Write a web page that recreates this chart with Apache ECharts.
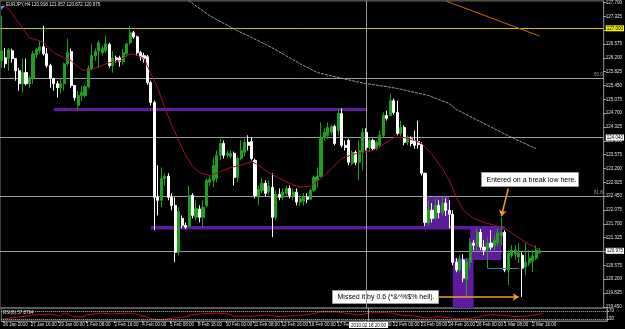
<!DOCTYPE html>
<html>
<head>
<meta charset="utf-8">
<script src="https://cdn.jsdelivr.net/npm/echarts@6/dist/echarts.min.js"></script>
<style>
html, body { margin: 0; padding: 0; background: #000; }
#chart { width: 625px; height: 329px; }
</style>
</head>
<body>
<div id="chart"></div>
<script>
// EURJPY H4, values
const dateLabels = ['26 Jan 2010', '27 Jan 16:00', '29 Jan 00:00', '1 Feb 08:00', '2 Feb 16:00',
  '4 Feb 00:00', '5 Feb 08:00', '8 Feb 16:00', '10 Feb 00:00', '11 Feb 08:00', '12 Feb 16:00',
  '16 Feb 00:00', '17 Feb 08:00', '18 Feb 16:00', '22 Feb 00:00', '23 Feb 08:00', '24 Feb 16:00',
  '26 Feb 00:00', '1 Mar 08:00', '2 Mar 16:00'];

const opens = [
  126.12, 126.20, 126.18, 126.39, 126.18, 125.85, 125.50, 125.80, 125.50, 125.66,
  126.28, 126.39, 126.50, 126.31, 125.99, 125.64, 125.50, 125.39, 125.50, 126.04,
  126.37, 125.45, 124.91, 125.18, 125.18, 125.42, 125.91, 126.26, 126.39, 126.34,
  126.39, 126.56, 125.99, 126.20, 126.20, 126.10, 126.31, 126.61, 126.88, 126.77,
  126.34, 126.26, 126.23, 125.53, 124.99, 122.42, 122.34, 122.93, 122.99, 122.42,
  122.20, 120.93, 121.85, 121.66, 121.64, 122.47, 121.88, 122.10, 121.88, 122.20,
  122.83, 122.88, 122.93, 123.56, 123.88, 123.56, 123.53, 123.61, 122.96, 123.47,
  123.64, 123.91, 123.93, 123.42, 122.47, 122.61, 122.80, 122.56, 122.69, 121.88,
  122.50, 122.42, 122.53, 122.66, 122.47, 122.56, 122.29, 122.31, 122.42, 122.37,
  122.61, 122.88, 122.99, 124.04, 124.10, 124.18, 124.34, 124.23, 124.69, 123.83,
  123.96, 123.34, 123.64, 123.37, 123.64, 124.18, 123.77, 123.96, 123.74, 123.83,
  124.10, 124.64, 124.64, 125.04, 124.72, 124.15, 124.31, 123.91, 124.01, 123.96,
  123.93, 123.85, 123.07, 121.74, 122.07, 121.85, 122.20, 122.01, 122.26, 122.07,
  121.96, 120.66, 120.45, 120.72, 120.18, 120.66, 121.18, 121.12, 121.47, 121.07,
  121.04, 121.18, 121.10, 121.18, 121.37, 121.47, 120.45, 120.85, 120.88, 120.80,
  120.85, 120.53, 120.64, 120.69, 120.77, 120.918
];
const closes = [
  126.39, 126.04, 126.42, 126.18, 125.85, 125.50, 125.80, 125.50, 125.66, 126.31,
  126.42, 126.50, 126.31, 125.99, 125.64, 125.50, 125.39, 125.50, 126.04, 126.34,
  125.45, 125.12, 125.18, 125.26, 125.42, 125.91, 126.26, 126.37, 126.61, 126.45,
  126.58, 125.99, 126.20, 126.15, 126.10, 126.34, 126.58, 126.88, 126.77, 126.34,
  126.23, 126.18, 125.53, 124.99, 122.42, 122.34, 122.93, 122.99, 122.42, 122.20,
  120.93, 122.04, 121.66, 121.61, 122.47, 121.93, 122.12, 121.88, 122.15, 122.88,
  122.91, 123.29, 123.56, 123.88, 123.56, 123.61, 123.61, 122.96, 123.47, 123.69,
  123.91, 123.83, 123.47, 122.47, 122.64, 122.80, 122.53, 122.72, 121.88, 122.50,
  122.42, 122.56, 122.66, 122.47, 122.56, 122.29, 122.39, 122.42, 122.37, 122.61,
  122.96, 122.99, 124.04, 124.18, 124.31, 124.34, 123.88, 124.69, 123.83, 123.77,
  123.37, 123.64, 123.37, 123.69, 124.18, 123.77, 123.96, 123.74, 123.91, 124.10,
  124.64, 124.56, 125.04, 124.72, 124.15, 124.31, 123.91, 124.01, 123.88, 123.83,
  123.85, 123.07, 121.74, 122.07, 121.85, 122.20, 122.01, 122.26, 122.07, 121.96,
  120.66, 120.45, 120.72, 120.23, 120.66, 121.18, 121.12, 121.47, 121.07, 120.99,
  121.18, 121.07, 121.26, 121.45, 121.47, 120.45, 120.91, 120.99, 120.99, 120.91,
  120.50, 120.66, 120.77, 120.83, 120.99, 120.975
];
const lows = [
  125.93, 125.93, 125.85, 126.07, 125.58, 125.31, 125.26, 125.45, 125.39, 125.50,
  126.20, 126.31, 126.26, 125.93, 125.39, 125.31, 125.12, 125.23, 125.31, 125.99,
  125.39, 125.04, 124.77, 125.04, 125.12, 125.37, 125.85, 126.12, 125.93, 126.26,
  126.34, 125.93, 125.80, 126.07, 125.96, 126.01, 126.23, 126.56, 126.72, 126.26,
  126.12, 126.07, 125.47, 124.91, 121.53, 121.93, 122.15, 122.74, 122.34, 122.07,
  120.66, 120.85, 121.58, 121.56, 121.61, 121.85, 121.80, 121.74, 121.61, 122.15,
  122.74, 122.69, 122.83, 123.42, 123.47, 123.50, 123.47, 122.74, 122.83, 123.42,
  123.53, 123.69, 123.42, 122.39, 122.20, 122.53, 122.45, 122.47, 121.34, 121.80,
  122.34, 122.34, 122.45, 122.39, 122.34, 122.20, 122.18, 122.20, 122.26, 122.34,
  122.56, 122.69, 122.96, 123.96, 124.01, 124.10, 123.83, 124.10, 123.77, 123.69,
  123.29, 123.29, 123.29, 122.88, 123.15, 123.69, 123.64, 123.69, 123.69, 123.77,
  124.04, 124.50, 124.61, 124.66, 124.10, 124.07, 123.83, 123.83, 123.80, 123.74,
  123.74, 123.01, 121.64, 121.66, 121.74, 121.80, 121.85, 121.93, 121.91, 121.58,
  120.58, 120.39, 120.39, 120.12, 119.69, 120.50, 120.99, 120.93, 120.99, 120.85,
  120.50, 120.99, 120.99, 121.10, 121.12, 120.39, 120.04, 120.77, 120.72, 120.64,
  119.72, 120.31, 120.56, 120.39, 120.72, 120.872
];
const highs = [
  127.34, 126.47, 126.47, 126.45, 126.20, 125.93, 126.18, 126.18, 125.72, 126.39,
  126.47, 126.66, 127.07, 126.47, 126.04, 125.66, 125.58, 125.64, 126.07, 126.72,
  126.45, 125.47, 125.31, 125.45, 125.47, 125.99, 126.58, 126.45, 126.66, 126.53,
  126.80, 126.61, 126.39, 126.26, 126.26, 126.45, 126.61, 127.07, 126.93, 126.80,
  126.39, 126.34, 126.28, 125.58, 125.04, 123.29, 123.23, 123.07, 123.07, 122.53,
  122.42, 122.15, 121.93, 121.74, 122.74, 122.53, 122.34, 122.20, 122.34, 122.93,
  122.99, 123.50, 123.69, 124.01, 123.96, 123.69, 123.69, 123.66, 123.53, 123.96,
  124.01, 124.10, 124.04, 123.47, 122.74, 122.93, 122.88, 122.88, 123.07, 122.61,
  122.66, 122.66, 122.74, 122.74, 122.66, 122.66, 122.47, 122.53, 122.53, 122.66,
  123.01, 123.23, 124.45, 124.29, 124.45, 124.39, 124.39, 124.83, 124.83, 123.96,
  124.01, 123.69, 123.69, 123.96, 124.29, 124.29, 124.04, 124.01, 123.96, 124.23,
  124.72, 124.77, 125.23, 125.10, 125.04, 124.50, 124.37, 124.10, 124.07, 124.23,
  124.50, 123.91, 123.09, 122.34, 122.26, 122.39, 122.34, 122.42, 122.39, 122.34,
  122.07, 120.77, 120.85, 120.88, 120.77, 121.31, 121.26, 121.58, 121.56, 121.26,
  121.34, 121.53, 121.39, 121.58, 121.88, 121.53, 120.99, 121.12, 121.12, 121.18,
  120.93, 121.18, 120.99, 120.99, 121.12, 121.057
];

// moving averages, [bar, price]
const maFast = [[0, 127.66], [2, 127.53], [4, 127.26], [6, 127.01], [8, 126.74], [10, 126.69],
  [12, 126.61], [15, 126.34], [18, 126.20], [20, 126.12], [23, 125.88], [25, 125.85], [28, 125.96],
  [31, 126.07], [34, 126.12], [37, 126.31], [39, 126.28], [41, 126.18], [43, 125.77], [45, 125.37],
  [47, 124.85], [49, 124.37], [51, 123.96], [53, 123.56], [55, 123.26], [57, 123.09], [60, 123.01],
  [63, 123.12], [66, 123.23], [69, 123.29], [72, 123.39], [74, 123.29], [77, 123.09], [80, 122.93],
  [83, 122.80], [86, 122.69], [89, 122.72], [92, 122.93], [95, 123.20], [98, 123.47], [101, 123.58],
  [104, 123.64], [107, 123.69], [110, 123.85], [113, 124.04], [116, 124.04], [119, 123.96],
  [121, 123.88], [124, 123.58], [127, 123.20], [129, 122.88], [131, 122.42], [133, 122.07],
  [136, 121.85], [139, 121.74], [142, 121.66], [145, 121.58], [148, 121.39], [151, 121.20],
  [154, 121.04], [155, 121.02]];
const maSlow = [[50, 128.01], [54, 127.74], [60, 127.34], [68, 126.93], [71, 126.80], [78, 126.47],
  [86, 126.04], [91, 125.80], [101, 125.58], [105, 125.50], [111, 125.42], [114, 125.37],
  [123, 125.18], [129, 124.96], [131, 124.80], [147, 124.04], [154, 123.74]];
const trendPts = [[128, 127.74], [155, 126.79]];

const rsi = [[0, 30], [9, 50], [14, 55], [16, 45], [18, 60], [20, 42], [23, 40], [24, 50], [28, 60],
  [31, 55], [36, 60], [38, 55], [41, 42], [43, 30], [45, 25], [49, 35], [52, 40], [54, 50], [57, 55],
  [61, 60], [65, 55], [66, 45], [72, 45], [76, 50], [79, 42], [84, 47], [87, 50], [90, 60], [91, 65],
  [96, 65], [98, 60], [102, 50], [105, 60], [109, 62], [112, 60], [114, 50], [118, 45], [122, 35],
  [125, 42], [128, 37], [131, 30], [135, 35], [139, 50], [143, 50], [147, 42], [151, 45], [155, 57.88]];

const priceTicks = [119.450, 119.825, 120.200, 120.575, 120.950, 121.325, 121.700, 122.075, 122.450,
  122.825, 123.200, 123.575, 123.950, 124.325, 124.700, 125.075, 125.450, 125.825, 126.200,
  126.575, 126.950, 127.325, 127.700];
const rsiTicks = [30, 70];

const lastPrice = 120.975;
const crossPrice = 124.040;
const crossBar = 105;
const yellowLevel = 127.000;
const fibo50 = 125.66;
const fibo618 = 122.45;
// purple rectangles: [bar from, price top, bar to, price bottom]
const zones = [[15, 124.84, 105, 124.76], [43, 121.64, 145, 121.55], [122, 122.45, 129, 121.64],
  [130, 120.77, 136, 119.42], [135, 121.58, 144, 120.72]];

const SLOTS = 174;
const cats = [];
for (let i = 0; i < SLOTS; i++) cats.push(String(i));
const candles = opens.map((o, i) => [o, closes[i], lows[i], highs[i]]);

const FONT = 'Liberation Sans';
const chart = echarts.init(document.getElementById('chart'));

function tagLabel(text, bg) {
  return { show: true, position: 'end', distance: 2, formatter: text, backgroundColor: bg,
    color: '#000', fontSize: 4.5, fontFamily: FONT, padding: [1, 1, 0, 1] };
}
const gray = { color: '#9a9a9a', width: 1, type: 'solid' };

chart.setOption({
  backgroundColor: '#000',
  animation: false,
  textStyle: { fontFamily: FONT },
  grid: [
    { left: 0, top: 0, width: 607, height: 308, show: true, borderColor: '#7a7a7a', borderWidth: 1 },
    { left: 0, top: 308, width: 607, height: 13, show: true, borderColor: '#7a7a7a', borderWidth: 1 }
  ],
  xAxis: [
    { type: 'category', gridIndex: 0, data: cats, boundaryGap: true,
      axisLine: { show: false }, axisTick: { show: false }, axisLabel: { show: false }, splitLine: { show: false } },
    { type: 'category', gridIndex: 1, data: cats, boundaryGap: true,
      axisLine: { show: true, lineStyle: { color: '#7a7a7a' } },
      axisTick: { show: true, alignWithLabel: true, length: 2, lineStyle: { color: '#bbb' },
        interval: (i) => i % 8 === 0 && i / 8 < dateLabels.length },
      axisLabel: { interval: (i) => i % 8 === 0 && i / 8 < dateLabels.length,
        formatter: (v, i) => dateLabels[i / 8] || '', align: 'left', color: '#e0e0e0',
        fontSize: 4.5, margin: 1, fontFamily: FONT },
      splitLine: { show: false } }
  ],
  yAxis: [
    { type: 'value', gridIndex: 0, position: 'right', min: 119.42, max: 127.744, scale: true,
      axisLine: { show: true, lineStyle: { color: '#7a7a7a' } },
      axisTick: { show: true, length: 2, customValues: priceTicks, lineStyle: { color: '#bbb' } },
      axisLabel: { customValues: priceTicks, formatter: (v) => v.toFixed(3), color: '#e0e0e0',
        fontSize: 4.5, margin: 2, fontFamily: FONT },
      splitLine: { show: false } },
    { type: 'value', gridIndex: 1, position: 'right', min: 20, max: 85,
      axisLine: { show: true, lineStyle: { color: '#7a7a7a' } },
      axisTick: { show: true, length: 2, customValues: rsiTicks, lineStyle: { color: '#bbb' } },
      axisLabel: { customValues: rsiTicks, color: '#e0e0e0', fontSize: 4.5, margin: 2, fontFamily: FONT },
      splitLine: { show: false } }
  ],
  series: [
    {
      name: 'EURJPY', type: 'candlestick', xAxisIndex: 0, yAxisIndex: 0, data: candles,
      barWidth: 2.6,
      itemStyle: { color: '#1ea01e', color0: '#ffffff', borderColor: '#1ea01e', borderColor0: '#ffffff', borderWidth: 1 },
      markArea: {
        silent: true, itemStyle: { color: '#5e1b9e', opacity: 1 },
        data: zones.map((z) => [{ xAxis: z[0], yAxis: z[1] }, { xAxis: z[2], yAxis: z[3] }])
      },
      markLine: {
        silent: true, symbol: 'none', z: 1,
        data: [
          { yAxis: fibo50, lineStyle: gray,
            label: { show: true, position: 'insideEndTop', formatter: '50.0', color: '#a0a0a0', fontSize: 4.5, distance: 1 } },
          { yAxis: crossPrice, lineStyle: gray, label: tagLabel(crossPrice.toFixed(3), '#ffffff') },
          { yAxis: fibo618, lineStyle: gray,
            label: { show: true, position: 'insideEndTop', formatter: '61.8', color: '#a0a0a0', fontSize: 4.5, distance: 1 } },
          { yAxis: lastPrice, lineStyle: gray, label: tagLabel(lastPrice.toFixed(3), '#ffffff') },
          { yAxis: yellowLevel, lineStyle: { color: '#c8c800', width: 1, type: 'solid' },
            label: tagLabel(yellowLevel.toFixed(3), '#f0f000') },
          { xAxis: crossBar, lineStyle: gray, label: { show: false } }
        ]
      }
    },
    {
      name: 'MA slow', type: 'line', xAxisIndex: 0, yAxisIndex: 0, data: maSlow, showSymbol: false,
      lineStyle: { color: '#9a9a9a', width: 1, type: [3, 1] }, z: 3
    },
    {
      name: 'Trend', type: 'line', xAxisIndex: 0, yAxisIndex: 0, data: trendPts, showSymbol: false,
      lineStyle: { color: '#c86a00', width: 1 }, z: 3
    },
    {
      name: 'MA fast', type: 'line', xAxisIndex: 0, yAxisIndex: 0, data: maFast, showSymbol: false,
      lineStyle: { color: '#a3102a', width: 1 }, z: 4,
      markLine: {
        silent: true, symbol: ['none', 'arrow'], symbolSize: 6,
        lineStyle: { color: '#f0a020', width: 1.5, type: 'solid' }, label: { show: false },
        data: [
          [{ coord: [146, 122.66] }, { coord: [144, 121.91] }],
          [{ coord: [126, 119.72] }, { coord: [149, 119.72] }],
          [{ coord: [140, 120.50], symbol: 'none', lineStyle: { color: '#1f8fa8', width: 1 } },
           { coord: [149, 120.50], symbol: 'none' }]
        ]
      }
    },
    {
      name: 'RSI(8)', type: 'line', xAxisIndex: 1, yAxisIndex: 1, data: rsi, showSymbol: false,
      lineStyle: { color: '#c01010', width: 1 },
      markLine: {
        silent: true, symbol: 'none',
        data: [
          { yAxis: 70, lineStyle: { color: '#c0c0c0', width: 1, type: 'dotted' }, label: { show: false } },
          { yAxis: 30, lineStyle: { color: '#c0c0c0', width: 1, type: 'dotted' }, label: { show: false } },
          { xAxis: crossBar, lineStyle: gray,
            label: { show: true, position: 'start', distance: 1, formatter: '2010.02.18 20:00',
              backgroundColor: '#ffffff', color: '#000', fontSize: 4.5, padding: [1, 2, 0, 2] } }
        ]
      }
    }
  ],
  graphic: [
    { type: 'polygon', z: 100, shape: { points: [[1, 6], [5, 6], [1, 10]] }, style: { fill: '#4aa0e0' } },
    { type: 'text', z: 100, left: 6, top: 2,
      style: { text: 'EURJPY,H4 120.918 121.057 120.872 120.975', fill: '#e0e0e0', fontSize: 4.5, fontFamily: FONT } },
    { type: 'text', z: 100, left: 3, top: 310,
      style: { text: 'RSI(8) 57.8794', fill: '#e0e0e0', fontSize: 4.5, fontFamily: FONT } },
    { type: 'group', z: 100, left: 481, top: 172, children: [
      { type: 'rect', shape: { x: 0, y: 0, width: 97, height: 14 },
        style: { fill: '#ffffff', stroke: '#9a9a9a', lineWidth: 1 } },
      { type: 'text', style: { x: 5, y: 7.5, text: 'Entered on a break low here.', fill: '#000',
        fontSize: 7, fontFamily: FONT, verticalAlign: 'middle' } }
    ] },
    { type: 'group', z: 100, left: 332, top: 290, children: [
      { type: 'rect', shape: { x: 0, y: 0, width: 106, height: 13 },
        style: { fill: '#ffffff', stroke: '#9a9a9a', lineWidth: 1 } },
      { type: 'text', style: { x: 5, y: 7, text: 'Missed it by 0.6 (*&^%$% hell).', fill: '#000',
        fontSize: 7, fontFamily: FONT, verticalAlign: 'middle' } }
    ] }
  ]
});
</script>
</body>
</html>
